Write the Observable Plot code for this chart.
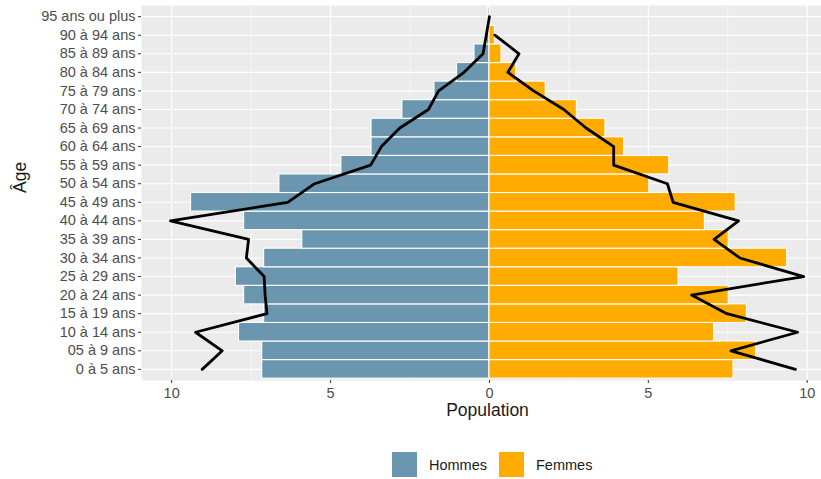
<!DOCTYPE html>
<html>
<head>
<meta charset="utf-8">
<script src="https://cdn.jsdelivr.net/npm/d3@7"></script>
<script src="https://cdn.jsdelivr.net/npm/@observablehq/plot@0.6"></script>
<style>
  body { margin: 0; background: #fff; font-family: "Liberation Sans", Arial, sans-serif; }
  #wrap { width: 821px; }
  #legend { display: flex; align-items: center; height: 41px; padding-top: 12px; padding-left: 391px; box-sizing: border-box; font-size: 14.5px; color: #1a1a1a; }
  .key { width: 27px; height: 27px; box-sizing: border-box; border: 1px solid #fff; margin-right: 11px; }
  .lab { margin-right: 11px; }
</style>
</head>
<body>
<div id="wrap">
  <div id="chart"></div>
  <div id="legend"></div>
</div>
<script>
// Categories (bottom to top)
const ages = ["0 à 5 ans", "05 à 9 ans", "10 à 14 ans", "15 à 19 ans", "20 à 24 ans",
  "25 à 29 ans", "30 à 34 ans", "35 à 39 ans", "40 à 44 ans", "45 à 49 ans",
  "50 à 54 ans", "55 à 59 ans", "60 à 64 ans", "65 à 69 ans", "70 à 74 ans",
  "75 à 79 ans", "80 à 84 ans", "85 à 89 ans", "90 à 94 ans", "95 ans ou plus"];

// Bar values (population share)
const hommes = [7.15, 7.15, 7.88, 7.09, 7.72, 7.98, 7.09, 5.89, 7.72, 9.39,
  6.61, 4.66, 3.71, 3.71, 2.74, 1.73, 1.02, 0.47, 0.08, 0.05];
const femmes = [7.68, 8.39, 7.07, 8.10, 7.53, 5.95, 9.37, 7.53, 6.78, 7.75,
  5.03, 5.66, 4.24, 3.65, 2.75, 1.77, 0.84, 0.38, 0.17, 0];

// Comparison lines
const hommesLigne = [9.04, 8.41, 9.25, 7.00, 7.06, 7.09, 7.65, 7.58, 10.04, 6.35,
  5.50, 3.74, 3.40, 2.82, 1.92, 1.60, 0.80, 0.20, 0.10, 0.0];
const femmesLigne = [9.63, 7.60, 9.70, 7.47, 6.36, 9.89, 7.88, 7.07, 7.84, 5.78,
  5.60, 3.91, 3.91, 3.04, 2.34, 1.39, 0.58, 0.93, 0.17, null];

const sexes = ["Hommes", "Femmes"];
const couleurs = ["#6b96af", "#ffab00"];
const xTicks = [-10, -5, 0, 5, 10];
const xMinor = [-7.5, -2.5, 2.5, 7.5];

const bars = [
  ...ages.map((a, i) => ({age: a, sexe: "Hommes", v: -hommes[i]})),
  ...ages.map((a, i) => ({age: a, sexe: "Femmes", v: femmes[i]}))
];
const lineH = ages.map((a, i) => ({age: a, v: -hommesLigne[i]})).reverse();
const lineF = ages.map((a, i) => ({age: a, v: femmesLigne[i]})).filter(d => d.v != null).reverse();

const chart = Plot.plot({
  width: 821,
  height: 438,
  marginLeft: 141,
  marginRight: 0,
  marginTop: 5,
  marginBottom: 58,
  style: {fontFamily: "'Liberation Sans', Arial, sans-serif", fontSize: "14.5px", background: "#fff", overflow: "visible"},
  x: {domain: [-10.95, 10.45]},
  y: {type: "band", domain: ages.slice().reverse(), paddingInner: 0, paddingOuter: 0.1, round: false},
  color: {domain: sexes, range: couleurs},
  marks: [
    Plot.frame({fill: "#ebebeb", stroke: null}),
    Plot.gridX({ticks: xMinor, stroke: "#fff", strokeOpacity: 1, strokeWidth: 0.55}),
    Plot.gridX({ticks: xTicks, stroke: "#fff", strokeOpacity: 1, strokeWidth: 1.1}),
    Plot.gridY({stroke: "#fff", strokeOpacity: 1, strokeWidth: 1.1}),
    Plot.barX(bars, {x1: d => 0, x2: "v", y: "age", fill: "sexe", stroke: "#fff", strokeWidth: 1.1}),
    Plot.lineX(lineH, {x: "v", y: "age", stroke: "#000", strokeWidth: 2.8}),
    Plot.lineX(lineF, {x: "v", y: "age", stroke: "#000", strokeWidth: 2.8}),
    Plot.axisX({ticks: xTicks, tickFormat: d => Math.abs(d), tickSize: 3, tickPadding: 4, stroke: "#333", fill: "#4d4d4d", label: null}),
    Plot.axisY({tickSize: 3, tickPadding: 3, stroke: "#333", fill: "#4d4d4d", label: null}),
    Plot.text(["Population"], {text: d => d, frameAnchor: "bottom", dy: 35, dx: 6, fontSize: 17.5, fill: "#1a1a1a"}),
    Plot.text(["Âge"], {text: d => d, frameAnchor: "left", dx: -121, rotate: -90, fontSize: 17.5, fill: "#1a1a1a"})
  ]
});
document.getElementById("chart").appendChild(chart);

const legend = document.getElementById("legend");
sexes.forEach((s, i) => {
  const k = document.createElement("div");
  k.className = "key";
  k.style.background = couleurs[i];
  const l = document.createElement("span");
  l.className = "lab";
  l.textContent = s;
  legend.appendChild(k);
  legend.appendChild(l);
});
</script>
</body>
</html>
